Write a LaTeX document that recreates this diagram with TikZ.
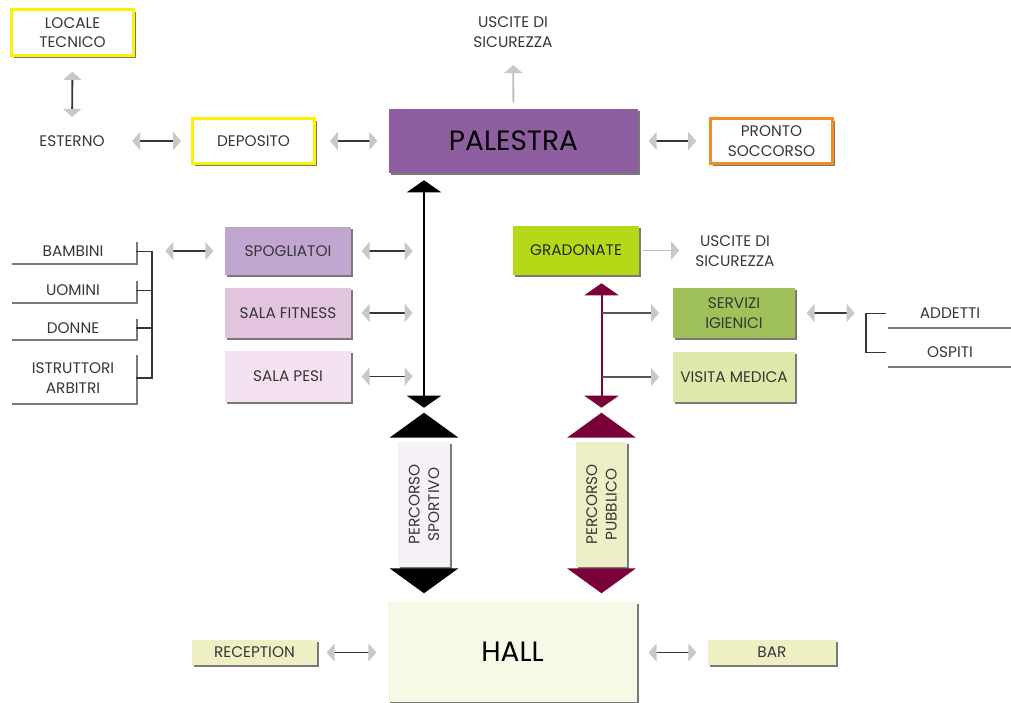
\documentclass[tikz,border=0pt]{standalone}
\usepackage{fontspec}
\setmainfont{Poppins}
\usetikzlibrary{arrows.meta,shadows,calc}
\definecolor{txt}{RGB}{55,55,55}
\definecolor{ylw}{RGB}{255,242,0}
\definecolor{org}{RGB}{246,139,31}
\definecolor{palc}{RGB}{143,94,160}
\definecolor{spogc}{RGB}{193,166,207}
\definecolor{fitc}{RGB}{226,196,222}
\definecolor{pesic}{RGB}{244,226,240}
\definecolor{gradc}{RGB}{180,217,22}
\definecolor{servc}{RGB}{160,193,90}
\definecolor{visc}{RGB}{221,232,170}
\definecolor{sportc}{RGB}{246,241,247}
\definecolor{pubc}{RGB}{239,239,199}
\definecolor{hallc}{RGB}{247,248,230}
\definecolor{recc}{RGB}{238,239,195}
\definecolor{maroon}{RGB}{122,0,58}
\definecolor{headgray}{RGB}{200,200,200}
\definecolor{linegray}{RGB}{55,55,55}
\definecolor{lightline}{RGB}{190,190,190}
\tikzset{
  lbl/.style={font=\fontsize{11.5}{14.5}\selectfont, text=txt, align=center, inner sep=0pt},
  big/.style={font=\fontsize{21}{24}\selectfont, text=black},
  shad/.style={drop shadow={shadow xshift=1.5pt, shadow yshift=-1.5pt, fill=black!70, opacity=.75}},
  box/.style={lbl, shad, minimum width=94.5pt},
  ybox/.style={box, fill=white, draw=ylw, line width=2.25pt, minimum width=91.5pt, minimum height=33.75pt},
  listbox/.style={box, fill=white},
  dbl/.style={{Triangle[width=13.5pt,length=6pt,color=headgray,sep=2.5pt]}-{Triangle[width=13.5pt,length=6pt,color=headgray,sep=2.5pt]}, draw=linegray, line width=1.4pt},
  sgl/.style={-{Triangle[width=13.5pt,length=6pt,color=headgray,sep=2pt]}, draw=lightline, line width=1.4pt},
  branch/.style={-{Triangle[width=13.5pt,length=6pt,color=headgray,sep=2pt]}, draw=linegray!85, line width=1.6pt},
  bigarr/.style={{Triangle[width=25.5pt,length=9pt]}-{Triangle[width=25.5pt,length=9pt]}, line width=1.5pt},
  brack/.style={draw=linegray, line width=1.4pt},
}
\begin{document}
\begin{tikzpicture}[x=0.75pt,y=-0.75pt]
\useasboundingbox (0,0) rectangle (1011,703);
% top row
\node[ybox, minimum height=34.5pt] (loc) at (72.5,32.5) {LOCALE\\TECNICO};
\node[lbl] (est) at (72,141) {ESTERNO};
\node[ybox] (dep) at (253.5,141) {DEPOSITO};
\node[box, big, fill=palc, minimum width=186.75pt, minimum height=48pt] (pal) at (513.5,141) {PALESTRA};
\node[ybox, draw=org] (ps) at (771.5,141) {PRONTO\\SOCCORSO};
\node[lbl] (usc) at (513,32) {USCITE DI\\SICUREZZA};
% left list
\node[listbox, minimum height=17.25pt] (bam) at (73,251.5) {BAMBINI};
\node[listbox, minimum height=17.25pt] (uom) at (73,290.5) {UOMINI};
\node[listbox, minimum height=16.5pt] (don) at (73,328) {DONNE};
\node[listbox, minimum height=37.5pt] (ist) at (73,378) {ISTRUTTORI\\ARBITRI};
\coordinate (brk) at (152,252);
% left rooms
\node[box, fill=spogc, minimum height=36pt] (spog) at (288,251) {SPOGLIATOI};
\node[box, fill=fitc, minimum height=37.5pt] (fit) at (288,313) {SALA FITNESS};
\node[box, fill=pesic, minimum height=38.25pt] (pesi) at (288,376.5) {SALA PESI};
% right rooms
\node[box, fill=gradc, minimum height=36.75pt, text=black!85] (grad) at (576,250.5) {GRADONATE};
\node[lbl] (usc2) at (735,251) {USCITE DI\\SICUREZZA};
\node[box, fill=servc, minimum width=91.5pt, minimum height=37.5pt] (serv) at (734,313) {SERVIZI\\IGIENICI};
\node[box, fill=visc, minimum width=91.5pt, minimum height=37.5pt] (vis) at (734,377) {VISITA MEDICA};
\coordinate (brk2) at (866,313);
\node[listbox, minimum width=96pt, minimum height=20.25pt] (add) at (950,313.5) {ADDETTI};
\node[listbox, minimum width=96pt, minimum height=20.25pt] (osp) at (950,352.5) {OSPITI};
% percorsi
\node[shad, fill=sportc, minimum width=39pt, minimum height=93.75pt, inner sep=0pt] (sport) at (424,504.5) {};
\node[lbl, rotate=90] (sportl) at (sport) {PERCORSO\\SPORTIVO};
\node[shad, fill=pubc, minimum width=38.25pt, minimum height=93.75pt, inner sep=0pt] (pub) at (601.5,504.5) {};
\node[lbl, rotate=90] (publ) at (pub) {PERCORSO\\PUBBLICO};
% bottom
\node[box, big, fill=hallc, minimum width=186.75pt, minimum height=75pt] (hall) at (512.5,652) {HALL};
\node[box, fill=recc, minimum width=93.75pt, minimum height=18.75pt] (rec) at (254.5,652.5) {RECEPTION};
\node[box, fill=recc, minimum width=96pt, minimum height=18.75pt] (bar) at (772,652.5) {BAR};
% big triangles
\coordinate (sportA) at ($(sport.north)+(0,-29)$);
\coordinate (pubA) at ($(pub.north)+(0,-29)$);
\fill[black] ($(sport.north)+(-34.5,-4)$) -- ++(69,0) -- (sportA) -- cycle;
\fill[black] ($(sport.south)+(-34.5,1)$) -- ++(69,0) -- ($(sport.south)+(0,26)$) -- cycle;
\fill[maroon] ($(pub.north)+(-34.5,-4)$) -- ++(69,0) -- (pubA) -- cycle;
\fill[maroon] ($(pub.south)+(-34.5,1)$) -- ++(69,0) -- ($(pub.south)+(0,26)$) -- cycle;
% vertical routes
\draw[bigarr, black, shorten <=5.25pt, shorten >=3.75pt] (pal.south -| sport.north) -- (sportA);
\draw[bigarr, maroon, shorten <=6pt, shorten >=3.75pt] (grad.south -| pub.north) -- (pubA);
% brackets
\draw[brack] (bam.east) -- (bam.east -| brk) -- (ist.east -| brk) -- (ist.east);
\draw[brack] (uom.east) -- (uom.east -| brk);
\draw[brack] (don.east) -- (don.east -| brk);
\draw[brack] (add.west) -- (add.west -| brk2) -- (osp.west -| brk2) -- (osp.west);
% gray connectors
\draw[dbl, shorten <=8.6pt, shorten >=11.25pt] (loc.south) -- (est.north);
\draw[dbl, shorten <=18pt, shorten >=4.9pt] (est.east) -- (dep.west);
\draw[dbl, shorten <=7.9pt, shorten >=6pt] (dep.east) -- (pal.west);
\draw[dbl, shorten <=5.25pt, shorten >=7.1pt] (pal.east) -- (ps.west);
\draw[sgl, shorten <=4.5pt, shorten >=11.25pt] (pal.north) -- (usc.south);
\draw[dbl, shorten <=7.5pt, shorten >=6pt] (spog.west -| brk) -- (spog.west);
\draw[dbl, shorten <=5.25pt, shorten >=6pt] (spog.east) -- (spog.east -| sport.north);
\draw[dbl, shorten <=5.25pt, shorten >=6pt] (fit.east) -- (fit.east -| sport.north);
\draw[dbl, shorten <=5.25pt, shorten >=6pt] (pesi.east) -- (pesi.east -| sport.north);
\draw[sgl, shorten <=3pt, shorten >=10pt] (grad.east) -- (grad.east -| usc2.west);
\draw[branch, shorten >=8.25pt] (serv.west -| pub.north) -- (serv.west);
\draw[branch, shorten >=8.25pt] (vis.west -| pub.north) -- (vis.west);
\draw[dbl, shorten <=6pt, shorten >=6pt] (serv.east) -- (serv.east -| brk2);
\draw[dbl, shorten <=4.5pt, shorten >=6pt] (rec.east) -- (hall.west |- rec.east);
\draw[dbl, shorten <=6pt, shorten >=6pt] (hall.east |- bar.west) -- (bar.west);
\end{tikzpicture}
\end{document}
